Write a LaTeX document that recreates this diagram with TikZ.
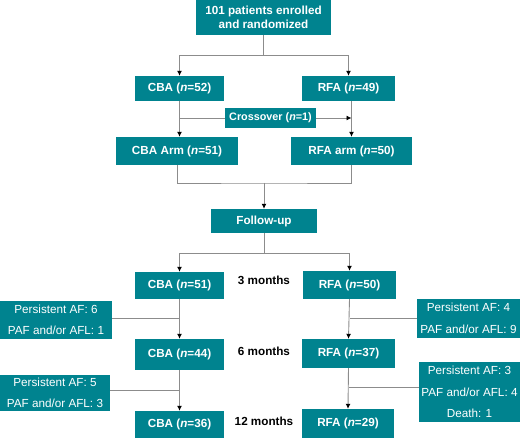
\documentclass[tikz,border=0pt]{standalone}
\usepackage{fontspec}
\setmainfont{Liberation Sans}
\usetikzlibrary{arrows.meta, positioning}
\definecolor{trialteal}{RGB}{0,131,143}
\definecolor{linegray}{RGB}{140,140,140}

\begin{document}
\begin{tikzpicture}[
    x=1pt, y=-1pt,
    box/.style={rectangle, fill=trialteal, text=white, inner sep=0pt, align=center, font=\fontsize{11.7}{14}\selectfont\bfseries},
    sidebox/.style={rectangle, fill=trialteal, text=white, inner sep=0pt, align=center, font=\fontsize{11.7}{21.5}\selectfont},
    month/.style={inner sep=0pt, font=\fontsize{11.7}{14}\selectfont\bfseries},
    line/.style={draw=linegray, line width=0.9pt},
    arrow/.style={line, -{Latex[length=5pt, width=5pt, color=black]}}
]
\useasboundingbox (0,0) rectangle (520,438);

% randomisation
\node[box, minimum width=135pt, minimum height=35pt] (enrol) at (263.5,17.5) {101 patients enrolled\\and randomized};
\node[box, minimum width=89pt, minimum height=25pt] (cba52) at (179.5,88.5) {CBA (\textit{n}=52)};
\node[box, minimum width=93pt, minimum height=25pt] (rfa49) at (348.5,88.5) {RFA (\textit{n}=49)};
\node[box, minimum width=91pt, minimum height=20pt, font=\fontsize{10.8}{13}\selectfont\bfseries] (cross) at (270.5,118) {Crossover (\textit{n}=1)};
\node[box, minimum width=122pt, minimum height=28pt] (cbaarm) at (177,151) {CBA Arm (\textit{n}=51)};
\node[box, minimum width=121pt, minimum height=28pt] (rfaarm) at (351.5,151) {RFA arm (\textit{n}=50)};
\node[box, minimum width=106pt, minimum height=24pt] (follow) at (264,221) {Follow-up};

% follow-up columns
\node[box, minimum width=89pt, minimum height=27pt] (cba51) at (179.5,285.5) {CBA (\textit{n}=51)};
\node[box, minimum width=93pt, minimum height=28pt] (rfa50) at (349.5,285) {RFA (\textit{n}=50)};
\node[box, minimum width=89pt, minimum height=31pt] (cba44) at (179.5,354.5) {CBA (\textit{n}=44)};
\node[box, minimum width=93pt, minimum height=29pt] (rfa37) at (348.5,353.5) {RFA (\textit{n}=37)};
\node[box, minimum width=89pt, minimum height=27pt] (cba36) at (179.5,424.5) {CBA (\textit{n}=36)};
\node[box, minimum width=92pt, minimum height=29pt] (rfa29) at (348,423.5) {RFA (\textit{n}=29)};

\node[month] (m3) at (264,280) {3 months};
\node[month] (m6) at (264,351) {6 months};
\node[month] (m12) at (264,421) {12 months};

% losses
\node[sidebox, minimum width=112pt, minimum height=38pt] (cbaloss1) at (56,320) {Persistent AF: 6\\PAF and/or AFL: 1};
\node[sidebox, minimum width=103pt, minimum height=39pt] (rfaloss1) at (468.5,318.5) {Persistent AF: 4\\PAF and/or AFL: 9};
\node[sidebox, minimum width=110pt, minimum height=36pt] (cbaloss2) at (55,393) {Persistent AF: 5\\PAF and/or AFL: 3};
\node[sidebox, minimum width=101pt, minimum height=60pt] (rfaloss2) at (469.5,392) {Persistent AF: 3\\PAF and/or AFL: 4\\Death: 1};

\coordinate (split1) at (enrol.south |- 0,55);
\coordinate (join) at (follow.north |- 0,183);
\coordinate (split2) at (follow.south |- 0,253);

\draw[line] (enrol.south) -- (split1);
\draw[arrow] (split1) -| (cba52.north);
\draw[arrow] (split1) -| (rfa49.north);
\draw[arrow] (cba52.south) -- (cba52.south |- cbaarm.north);
\draw[arrow] (rfaarm.north |- rfa49.south) -- (rfaarm.north);
\draw[line] (cba52.south |- cross.west) -- (cross.west);
\draw[arrow] (cross.east) -- (rfaarm.north |- cross.east);

\draw[line] (cbaarm.south) |- (join) -| (rfaarm.south);
\draw[arrow] (join) -- (follow.north);
\draw[line] (follow.south) -- (split2);
\draw[arrow] (split2) -| (cba51.north);
\draw[arrow] (split2) -| (rfa50.north);

\draw[arrow] (cba51.south) -- (cba44.north);
\draw[arrow] (cba44.south) -- (cba36.north);
\draw[arrow] (rfa50.south) -- (rfa37.north);
\draw[arrow] (rfa37.south) -- (rfa29.north);
\draw[line] ([yshift=2pt]cbaloss1.east) -- ([yshift=2pt]cbaloss1.east -| cba51.south);
\draw[line] (rfaloss1.west) -- (rfaloss1.west -| rfa50.south);
\draw[line] ([yshift=3pt]cbaloss2.east) -- ([yshift=3pt]cbaloss2.east -| cba44.south);
\draw[line] ([yshift=5pt]rfaloss2.west) -- ([yshift=5pt]rfaloss2.west -| rfa37.south);
\end{tikzpicture}
\end{document}
